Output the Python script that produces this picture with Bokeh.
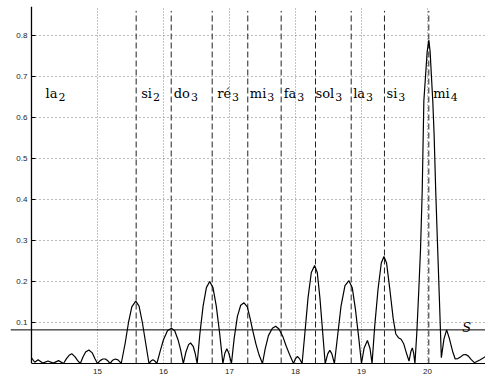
from bokeh.plotting import figure
from bokeh.models import Range1d, LinearAxis, FixedTicker, Span, Grid, ColumnDataSource
from bokeh.embed import file_html
from bokeh.resources import INLINE
from bokeh.core.properties import value

# ---- data ----
freq = [14.00, 14.05, 14.10, 14.17, 14.25, 14.33, 14.41, 14.485, 14.53, 14.57, 14.61, 14.66, 14.70, 14.74,
        14.78, 14.82, 14.87, 14.92, 14.96, 15.00, 15.04, 15.08, 15.12, 15.16, 15.19, 15.23, 15.27, 15.31,
        15.34, 15.36,
        15.42, 15.47, 15.52, 15.58, 15.63, 15.68, 15.73, 15.78,
        15.81, 15.84, 15.87, 15.90,
        15.95, 16.00, 16.06, 16.12, 16.17, 16.22, 16.26, 16.30,
        16.34, 16.38, 16.41, 16.45, 16.48, 16.51,
        16.55, 16.60, 16.65, 16.70, 16.75, 16.80, 16.85, 16.90,
        16.93, 16.96, 16.99, 17.03,
        17.07, 17.12, 17.17, 17.22, 17.27, 17.31, 17.35, 17.40, 17.45, 17.50,
        17.54, 17.59, 17.65, 17.70, 17.75, 17.81, 17.86, 17.92, 17.97,
        18.00, 18.03, 18.06, 18.10,
        18.14, 18.19, 18.24, 18.29, 18.33, 18.37, 18.41, 18.45,
        18.49, 18.52, 18.55, 18.59,
        18.64, 18.69, 18.75, 18.81, 18.86, 18.91, 18.96, 19.00,
        19.04, 19.09, 19.13, 19.16,
        19.20, 19.25, 19.30, 19.34, 19.38, 19.43, 19.48, 19.52, 19.56, 19.60, 19.64, 19.68, 19.72,
        19.75, 19.77, 19.79, 19.81,
        19.84, 19.868, 19.894, 19.92, 19.945, 19.97, 19.995, 20.02, 20.04, 20.06, 20.08, 20.10,
        20.125, 20.15, 20.18, 20.21,
        20.25, 20.29, 20.33, 20.38, 20.42, 20.46, 20.50, 20.54, 20.58, 20.62, 20.66, 20.71, 20.80, 20.88]
amplitude = [0.014, 0.003, 0.009, 0.001, 0.006, 0.001, 0.007, 0.000, 0.012, 0.020, 0.024, 0.016, 0.007, 0.000,
             0.016, 0.028, 0.033, 0.026, 0.012, 0.000, 0.007, 0.011, 0.011, 0.006, 0.000, 0.008, 0.011, 0.009,
             0.004, 0.000,
             0.050, 0.100, 0.138, 0.152, 0.140, 0.100, 0.050, 0.000,
             0.006, 0.009, 0.006, 0.000,
             0.030, 0.058, 0.080, 0.086, 0.080, 0.058, 0.033, 0.000,
             0.028, 0.046, 0.050, 0.042, 0.025, 0.000,
             0.070, 0.140, 0.185, 0.200, 0.185, 0.140, 0.075, 0.000,
             0.025, 0.036, 0.025, 0.000,
             0.060, 0.115, 0.142, 0.148, 0.138, 0.112, 0.082, 0.048, 0.020, 0.000,
             0.035, 0.068, 0.086, 0.091, 0.084, 0.065, 0.042, 0.018, 0.000,
             0.012, 0.017, 0.012, 0.000,
             0.070, 0.160, 0.222, 0.239, 0.222, 0.160, 0.080, 0.000,
             0.024, 0.032, 0.024, 0.000,
             0.070, 0.140, 0.190, 0.202, 0.185, 0.130, 0.060, 0.000,
             0.038, 0.056, 0.036, 0.000,
             0.090, 0.180, 0.245, 0.261, 0.245, 0.180, 0.110, 0.072, 0.063, 0.059, 0.048, 0.026, 0.006,
             0.030, 0.038, 0.026, 0.000,
             0.080, 0.178, 0.276, 0.420, 0.641, 0.700, 0.760, 0.789, 0.760, 0.700, 0.641, 0.560,
             0.420, 0.300, 0.160, 0.014,
             0.060, 0.082, 0.062, 0.030, 0.011, 0.012, 0.016, 0.021, 0.022, 0.018, 0.010, 0.002, 0.009, 0.017]

note_names = ["la", "si", "do", "ré", "mi", "fa", "sol", "la", "si", "mi"]
note_octaves = ["2", "2", "3", "3", "3", "3", "3", "3", "3", "4"]
note_label_x = [14.212, 15.662, 16.156, 16.814, 17.308, 17.823, 18.303, 18.874, 19.379, 20.086]
note_line_x = [15.586, 16.117, 16.738, 17.277, 17.783, 18.303, 18.844, 19.348, 20.02]

threshold = 0.082
threshold_label = "S"
x_ticks = [15, 16, 17, 18, 19, 20]
y_ticks = [0.1, 0.2, 0.3, 0.4, 0.5, 0.6, 0.7, 0.8]

# ---- layout ----
X_AXIS = 14.0
X_START = 13.682
X_END = 20.879
Y_TOP = 0.8707
PX_PER_X = 66.0
TICK_LEN = 4 / PX_PER_X

p = figure(width=485, height=380, output_backend="svg", toolbar_location=None,
           x_range=Range1d(X_START, X_END), y_range=Range1d(0, Y_TOP),
           x_axis_type=None, y_axis_type=None,
           min_border_left=10, min_border_right=0, min_border_top=6, min_border_bottom=17)
p.outline_line_color = None
p.background_fill_color = "white"
p.border_fill_color = "white"

xaxis = LinearAxis(ticker=FixedTicker(ticks=x_ticks), bounds=(X_AXIS, X_END + 1))
xaxis.major_tick_in = 0
xaxis.major_tick_out = 0
xaxis.minor_tick_line_color = None
xaxis.axis_line_color = "black"
xaxis.axis_line_width = 1
xaxis.major_label_standoff = 5
xaxis.major_label_text_font = "Liberation Sans"
xaxis.major_label_text_font_size = "8px"
xaxis.major_label_text_color = "#222222"
p.add_layout(xaxis, "below")

# y axis: labels via a fixed-location axis, line and ticks drawn explicitly
yaxis = LinearAxis(ticker=FixedTicker(ticks=y_ticks), bounds=(0, Y_TOP), fixed_location=X_AXIS)
yaxis.major_tick_in = 4
yaxis.major_tick_out = 0
yaxis.minor_tick_line_color = None
yaxis.axis_line_color = None
yaxis.major_tick_line_color = None
yaxis.major_label_standoff = 4
yaxis.major_label_text_font = "Liberation Sans"
yaxis.major_label_text_font_size = "8px"
yaxis.major_label_text_color = "#222222"
p.add_layout(yaxis, "left")

xgrid = Grid(dimension=0, ticker=FixedTicker(ticks=x_ticks),
             grid_line_color="#888888", grid_line_dash="1 2", grid_line_width=1)
p.add_layout(xgrid)

# horizontal dotted grid, starting at the y axis
p.segment(x0=[X_AXIS] * len(y_ticks), x1=[X_END] * len(y_ticks), y0=y_ticks, y1=y_ticks,
          line_color="#777777", line_dash="1 3", line_width=1)

# y axis line and inward ticks
p.add_layout(Span(location=X_AXIS, dimension="height", line_color="black", line_width=1.3))
p.segment(x0=[X_AXIS] * len(y_ticks), x1=[X_AXIS + TICK_LEN] * len(y_ticks), y0=y_ticks, y1=y_ticks,
          line_color="black", line_width=1)

# note lines
p.segment(x0=note_line_x, x1=note_line_x, y0=[0] * len(note_line_x), y1=[0.86] * len(note_line_x),
          line_color="#222222", line_dash="6 3", line_width=1)

# threshold
p.add_layout(Span(location=threshold, dimension="width", line_color="black", line_width=1))

# spectrum
p.line(freq, amplitude, line_color="black", line_width=1.2)

# note labels
char_w = {"l": 0.320, "a": 0.596, "s": 0.513, "i": 0.320, "d": 0.640, "o": 0.602,
          "r": 0.478, "é": 0.592, "m": 0.948, "f": 0.370}
base_size = 13
offsets = [sum(char_w.get(c, 0.6) for c in n) * base_size + 1 for n in note_names]
lab_y = 0.658
src = ColumnDataSource(dict(x=note_label_x, name=note_names, octave=note_octaves,
                            y=[lab_y] * len(note_names), ys=[lab_y - 0.007] * len(note_names),
                            off=offsets))
p.text(x="x", y="y", text="name", source=src, text_font=value("DejaVu Serif"),
       text_font_size="13px", text_align="left", text_baseline="alphabetic", text_color="black")
p.text(x="x", y="ys", text="octave", x_offset="off", source=src, text_font=value("DejaVu Serif"),
       text_font_size="11px", text_align="left", text_baseline="alphabetic", text_color="black")

p.text(x=[20.526], y=[0.087], text=[threshold_label], text_font=value("DejaVu Serif"),
       text_font_style="italic", text_font_size="13px", text_align="left",
       text_baseline="alphabetic", text_color="black")

open("out.html", "w").write(file_html(p, INLINE))
